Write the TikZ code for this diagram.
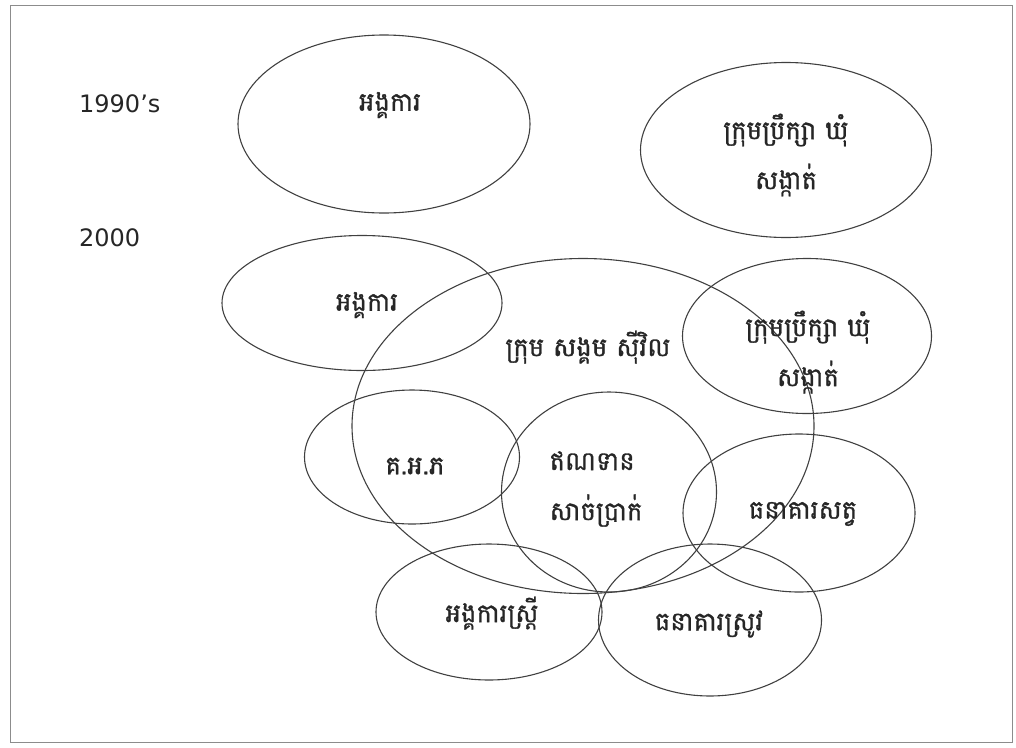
\documentclass[tikz,border=0pt]{standalone}
\usepackage{fontspec}
\newfontfamily\khmerfont[Script=Khmer, FakeBold=1.2]{Battambang}
\newfontfamily\yearfont{DejaVu Sans}
\usetikzlibrary{shapes.geometric}

\begin{document}
\begin{tikzpicture}[
  x=1pt, y=-1pt,
  oval/.style={ellipse, draw=black!75, line width=1.1pt, inner sep=0pt},
  kh/.style={font=\khmerfont\fontsize{26}{50}\selectfont, align=center, inner sep=0pt, text=black!85},
  yr/.style={font=\yearfont\fontsize{24}{28}\selectfont, anchor=west, inner sep=0pt, text=black!85}
]
  \useasboundingbox (0,0) rectangle (1016,747);
  \draw[black!45, line width=1pt] (10,5) rectangle (1012,742);

  % years
  \node[yr] (y1990) at (79,104) {1990’s};
  \node[yr] (y2000) at (79,238) {2000};

  % 1990's
  \node[oval, minimum width=292pt, minimum height=178pt] (org90) at (384,124) {};
  \node[oval, minimum width=291pt, minimum height=175pt] (council90) at (786,150) {};
  \node[kh] (torg90) at (390,105) {អង្គការ};
  \node[kh] (tcouncil90) at (786,155) {ក្រុមប្រឹក្សា ឃុំ\\សង្កាត់};

  % 2000
  \node[oval, minimum width=280pt, minimum height=135pt] (org00) at (362,303) {};
  \node[oval, minimum width=462pt, minimum height=335pt] (civil) at (583,426) {};
  \node[oval, minimum width=249pt, minimum height=155pt] (council00) at (807,336) {};
  \node[oval, minimum width=215pt, minimum height=134pt] (vdc) at (412,457) {};
  \node[oval, minimum width=215pt, minimum height=200pt] (credit) at (609,492) {};
  \node[oval, minimum width=232pt, minimum height=158pt] (animal) at (799,513) {};
  \node[oval, minimum width=226pt, minimum height=136pt] (women) at (489,612) {};
  \node[oval, minimum width=223pt, minimum height=152pt] (rice) at (710,620) {};

  \node[kh] (torg00) at (367,305) {អង្គការ};
  \node[kh] (tcivil) at (588,347) {ក្រុម សង្គម ស៊ីវិល};
  \node[kh] (tcouncil00) at (808,352) {ក្រុមប្រឹក្សា ឃុំ\\សង្កាត់};
  \node[kh] (tvdc) at (415,466) {គ.អ.ភ};
  \node[kh, align=left] (tcredit) at (596,489) {ឥណទាន\\សាច់ប្រាក់};
  \node[kh] (tanimal) at (803,514) {ធនាគារសត្វ};
  \node[kh] (twomen) at (492,613) {អង្គការស្ត្រី};
  \node[kh] (trice) at (709,624) {ធនាគារស្រូវ};
\end{tikzpicture}
\end{document}
